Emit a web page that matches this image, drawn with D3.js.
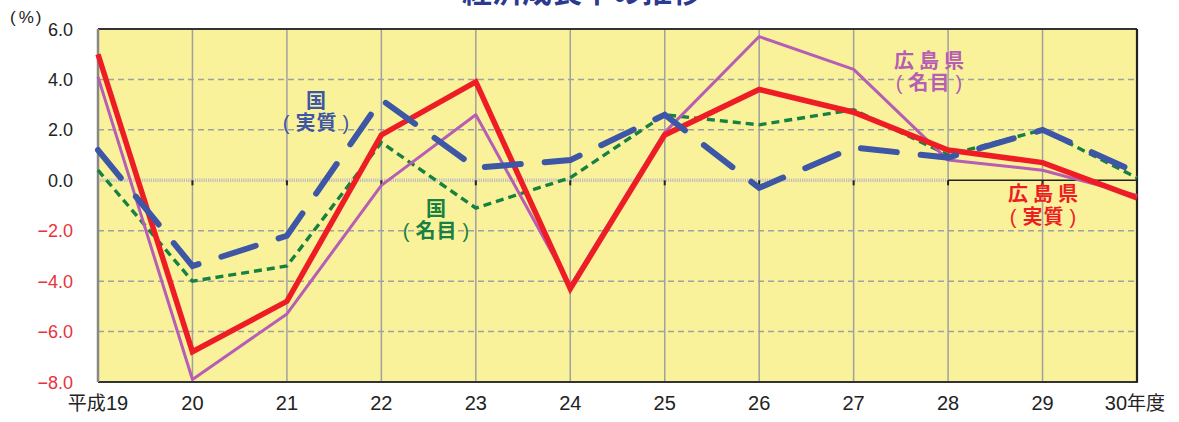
<!DOCTYPE html>
<html><head><meta charset="utf-8">
<script src="https://cdn.jsdelivr.net/npm/d3@7"></script>
<style>
html,body{margin:0;padding:0;background:#fff;}
svg{display:block;}
text{font-family:"Liberation Sans",Arial,"Noto Sans CJK JP",sans-serif;}
.jp{font-family:"Noto Sans CJK JP","Noto Sans CJK SC",sans-serif;}
</style></head>
<body>
<svg id="chart" width="1179" height="422"></svg>
<script>
const categories = ["19","20","21","22","23","24","25","26","27","28","29","30"];
const xTickLabels = ["平成19","20","21","22","23","24","25","26","27","28","29","30年度"];
const hiroshimaReal = [5.0,-6.8,-4.8,1.8,3.9,-4.3,1.8,3.6,2.7,1.2,0.7,-0.7];
const hiroshimaNominal = [4.1,-7.9,-5.3,-0.2,2.6,-4.2,1.9,5.7,4.4,0.8,0.4,-0.6];
const japanReal = [1.2,-3.4,-2.2,3.2,0.5,0.8,2.6,-0.3,1.3,0.9,2.0,0.3];
const japanNominal = [0.4,-4.0,-3.4,1.5,-1.1,0.1,2.6,2.2,2.8,1.0,2.0,0.1];
const yTicks = [6,4,2,0,-2,-4,-6,-8];

const svg = d3.select("#chart");
const L=98, R=1137, T=29, B=382;
const x = d3.scalePoint().domain(categories).range([L,R]);
const y = d3.scaleLinear().domain([-8,6]).range([B,T]);

// background
svg.append("rect").attr("x",L).attr("y",T).attr("width",R-L).attr("height",B-T).attr("fill","#faf29b");

// vertical grid
svg.append("g").selectAll("line").data(categories.slice(1,-1)).join("line")
  .attr("x1",d=>x(d)).attr("x2",d=>x(d)).attr("y1",T).attr("y2",B)
  .attr("stroke","#a0a0a0").attr("stroke-width",1.5);
// horizontal grid
svg.append("g").selectAll("line").data(yTicks.filter(v=>v!==0&&v!==6&&v!==-8)).join("line")
  .attr("x1",L).attr("x2",R).attr("y1",d=>y(d)).attr("y2",d=>y(d))
  .attr("stroke","#a0a0a0").attr("stroke-width",1.5).attr("stroke-dasharray","6,4");
// zero line
svg.append("line").attr("x1",L).attr("x2",x("28")).attr("y1",y(0)).attr("y2",y(0))
  .attr("stroke","#bdbdbd").attr("stroke-width",3.5).attr("stroke-dasharray","1.2,1");
svg.append("line").attr("x1",x("28")).attr("x2",R).attr("y1",y(0)).attr("y2",y(0))
  .attr("stroke","#222").attr("stroke-width",1.6);
// tick marks at zero
svg.append("g").selectAll("line").data(categories.slice(0,-1)).join("line")
  .attr("x1",d=>x(d)).attr("x2",d=>x(d)).attr("y1",y(0)).attr("y2",y(0)+5)
  .attr("stroke","#222").attr("stroke-width",2);

// border
svg.append("line").attr("x1",L).attr("x2",R).attr("y1",T).attr("y2",T).attr("stroke","#333").attr("stroke-width",2);
svg.append("line").attr("x1",L).attr("x2",R+1).attr("y1",B).attr("y2",B).attr("stroke","#333").attr("stroke-width",2);
svg.append("line").attr("x1",R).attr("x2",R).attr("y1",T).attr("y2",B).attr("stroke","#222").attr("stroke-width",2.2);
svg.append("line").attr("x1",L).attr("x2",L).attr("y1",T).attr("y2",B).attr("stroke","#888").attr("stroke-width",2.5);

const line = d3.line().x((d,i)=>x(categories[i])).y(d=>y(d));

// lines
svg.append("path").datum(japanNominal).attr("d",line).attr("fill","none")
  .attr("stroke","#178140").attr("stroke-width",3.4).attr("stroke-dasharray","8,5");
svg.append("path").datum(hiroshimaNominal).attr("d",line).attr("fill","none")
  .attr("stroke","#b65db4").attr("stroke-width",3).attr("stroke-linejoin","round");
svg.append("path").datum(hiroshimaReal).attr("d",line).attr("fill","none")
  .attr("stroke","#ee1d25").attr("stroke-width",5.5).attr("stroke-linejoin","miter");
svg.append("path").datum(japanReal).attr("d",line).attr("fill","none")
  .attr("stroke","#3e56a6").attr("stroke-width",6).attr("stroke-linecap","round")
  .attr("stroke-dasharray","36,24");

// y labels
svg.append("g").selectAll("text").data(yTicks).join("text")
  .attr("x",73).attr("y",d=>y(d)+6.5).attr("text-anchor","end")
  .attr("font-size",18).attr("fill",d=>d<0?"#e8333a":"#222")
  .text(d=>(d<0?"−":"")+Math.abs(d).toFixed(1));
const pct = svg.append("text").attr("x",10).attr("y",23).attr("font-size",17).attr("fill","#222");
pct.append("tspan").text("(");
pct.append("tspan").attr("dx",3).text("%");
pct.append("tspan").attr("dx",2).text(")");

// x labels
svg.append("g").selectAll("text").data(categories).join("text")
  .attr("x",(d,i)=> i===0 ? x(d)+0 : (i===categories.length-1 ? x(d)-2 : x(d)))
  .attr("y",410).attr("text-anchor","middle")
  .attr("font-size",20).attr("fill","#222")
  .each(function(d,i){
    const t = xTickLabels[i];
    const m = t.match(/^(\D*)(\d+)(\D*)$/);
    const s = d3.select(this);
    if (m[1]) s.append("tspan").attr("class","jp").attr("font-size",19).text(m[1]);
    s.append("tspan").text(m[2]);
    if (m[3]) s.append("tspan").attr("class","jp").attr("font-size",19).text(m[3]);
  });

// title
svg.append("text").attr("class","jp").attr("x",582).attr("y",2).attr("text-anchor","middle")
  .attr("font-size",30).attr("font-weight","bold").attr("fill","#2b3990").text("経済成長率の推移");

// annotations: name line and parenthesised line
function note(name, inner, cx, y0, gap, color, nameSpacing){
  const g = svg.append("g").attr("class","jp").attr("font-size",20).attr("font-weight","bold").attr("fill",color);
  const t1 = g.append("text").attr("x",cx).attr("y",y0).attr("text-anchor","middle");
  [...name].forEach((ch,i)=>t1.append("tspan").attr("dx", i===0?0:nameSpacing).text(ch));
  const t2 = g.append("text").attr("x",cx).attr("y",y0+gap).attr("text-anchor","middle");
  t2.append("tspan").attr("font-weight","normal").text("(");
  t2.append("tspan").attr("dx",6).attr("letter-spacing",1).text(inner);
  t2.append("tspan").attr("dx",5).attr("font-weight","normal").text(")");
}
note("国","実質", 316, 108, 22, "#3e56a6", 0);
note("国","名目", 436, 216, 22, "#178140", 0);
note("広島県","名目", 929, 68, 22, "#b65db4", 5);
note("広島県","実質", 1043, 201, 23, "#ee1d25", 5);
</script>
</body></html>
